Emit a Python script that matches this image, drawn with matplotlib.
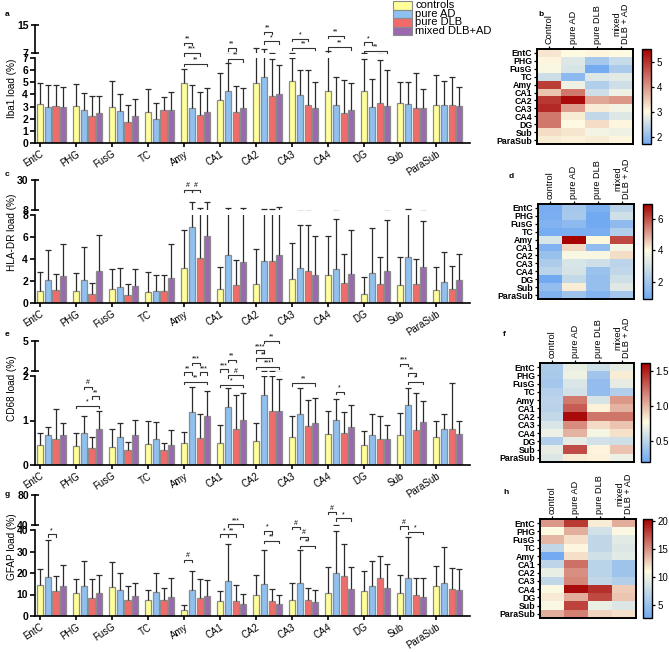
import numpy as np
import matplotlib
matplotlib.use('Agg')
import matplotlib.pyplot as plt
from matplotlib.colors import LinearSegmentedColormap, Normalize

plt.rcParams['font.family'] = ['Liberation Sans', 'DejaVu Sans']

# ---------------- data ----------------
regions = ['EntC', 'PHG', 'FusG', 'TC', 'Amy', 'CA1', 'CA2', 'CA3', 'CA4', 'DG', 'Sub', 'ParaSub']
groups = ['controls', 'pure AD', 'pure DLB', 'mixed DLB+AD']

iba1_mean = {
    'controls':     [3.20, 3.05, 2.95, 2.55, 4.90, 3.55, 4.95, 5.10, 4.30, 4.30, 3.30, 3.15],
    'pure AD':      [3.00, 2.70, 2.65, 1.95, 2.85, 4.30, 5.40, 3.95, 3.15, 3.00, 3.20, 3.10],
    'pure DLB':     [3.05, 2.20, 1.75, 2.70, 2.30, 2.55, 3.85, 3.15, 2.45, 3.30, 2.90, 3.15],
    'mixed DLB+AD': [3.00, 2.50, 2.25, 2.75, 2.55, 2.85, 4.00, 2.90, 2.70, 3.05, 2.85, 3.05],
}
iba1_top = {
    'controls':     [4.93, 4.85, 5.10, 4.45, 6.10, 5.75, 8.40, 7.00, 7.60, 6.90, 5.00, 5.60],
    'pure AD':      [4.80, 4.10, 4.05, 3.30, 4.80, 6.60, 8.10, 6.05, 5.40, 5.25, 5.00, 5.10],
    'pure DLB':     [4.80, 3.90, 3.15, 3.80, 4.20, 4.70, 6.90, 6.05, 5.20, 6.85, 5.80, 5.40],
    'mixed DLB+AD': [4.60, 3.90, 3.60, 4.20, 4.55, 4.55, 6.40, 5.05, 4.90, 6.00, 4.45, 4.65],
}
hla_mean = {
    'controls':     [1.05, 1.10, 1.25, 1.00, 3.15, 1.25, 1.75, 2.20, 2.55, 0.80, 1.65, 1.20],
    'pure AD':      [2.05, 2.10, 1.50, 1.10, 6.95, 4.40, 3.85, 3.15, 3.10, 2.70, 4.15, 1.90],
    'pure DLB':     [1.15, 0.80, 0.75, 1.10, 4.05, 1.65, 3.85, 2.95, 1.80, 1.70, 1.70, 1.30],
    'mixed DLB+AD': [2.50, 2.95, 1.55, 2.30, 6.10, 3.70, 4.35, 2.55, 2.65, 2.95, 3.30, 2.05],
}
hla_top = {
    'controls':     [2.80, 2.70, 3.10, 2.85, 6.60, 3.30, 4.90, 5.45, 6.10, 2.35, 4.15, 3.25],
    'pure AD':      [4.80, 5.10, 3.20, 2.55, 14.0, 9.50, 8.50, 7.05, 7.60, 6.85, 8.50, 4.60],
    'pure DLB':     [2.60, 1.80, 1.75, 2.55, 9.50, 3.90, 8.50, 7.05, 4.45, 4.20, 4.00, 3.40],
    'mixed DLB+AD': [5.40, 6.15, 3.10, 5.35, 14.0, 9.50, 10.0, 6.10, 6.60, 7.55, 7.45, 4.45],
}
cd68_mean = {
    'controls':     [0.44, 0.43, 0.41, 0.47, 0.50, 0.49, 0.53, 0.62, 0.70, 0.46, 0.67, 0.63],
    'pure AD':      [0.68, 0.71, 0.62, 0.59, 1.20, 1.30, 1.57, 1.14, 1.01, 0.67, 1.35, 0.82],
    'pure DLB':     [0.58, 0.39, 0.34, 0.34, 0.61, 0.80, 1.21, 0.88, 0.73, 0.59, 0.79, 0.80],
    'mixed DLB+AD': [0.67, 0.82, 0.67, 0.46, 1.10, 1.01, 1.21, 0.95, 0.86, 0.58, 0.96, 0.70],
}
cd68_top = {
    'controls':     [0.71, 0.71, 0.80, 0.99, 0.74, 0.89, 0.95, 1.11, 1.22, 0.76, 1.16, 0.99],
    'pure AD':      [0.86, 1.09, 0.94, 0.96, 1.76, 1.74, 1.99, 1.72, 1.48, 1.14, 1.74, 1.14],
    'pure DLB':     [1.25, 0.62, 0.51, 0.49, 1.15, 1.57, 1.99, 1.46, 1.19, 1.09, 1.61, 1.84],
    'mixed DLB+AD': [0.94, 1.21, 1.01, 0.79, 1.66, 1.61, 1.93, 1.50, 1.34, 0.91, 1.44, 0.99],
}
gfap_mean = {
    'controls':     [14.6, 10.9, 13.5, 7.4, 2.8, 7.2, 9.7, 7.4, 10.8, 11.6, 10.7, 13.9],
    'pure AD':      [18.1, 13.8, 12.0, 11.2, 12.0, 16.1, 15.0, 15.3, 19.8, 13.9, 17.8, 15.5],
    'pure DLB':     [11.5, 8.4, 7.4, 7.4, 8.3, 6.9, 6.9, 7.5, 18.5, 17.6, 9.8, 12.4],
    'mixed DLB+AD': [13.9, 10.7, 9.3, 9.0, 9.3, 5.4, 5.4, 6.6, 12.7, 13.0, 9.0, 12.0],
}
gfap_top = {
    'controls':     [21.9, 17.3, 25.3, 12.3, 4.9, 11.8, 19.2, 15.3, 22.9, 21.1, 18.9, 23.1],
    'pure AD':      [35.2, 25.6, 20.2, 19.9, 20.8, 33.4, 30.7, 30.7, 39.6, 25.4, 36.9, 32.2],
    'pure DLB':     [18.5, 17.0, 13.9, 13.0, 17.3, 14.3, 12.7, 13.2, 33.7, 27.7, 17.8, 22.2],
    'mixed DLB+AD': [23.8, 19.3, 15.5, 17.9, 16.9, 10.1, 10.0, 12.3, 22.7, 24.2, 17.8, 21.9],
}

# significance brackets: (region index, group a, group b, height, label)
iba1_sig = [(4, 0, 1, 8.26, '**'), (4, 0, 2, 7.41, '***'), (4, 0, 3, 6.53, '**'),
            (5, 1, 2, 7.82, '**'), (5, 1, 3, 6.91, '**'),
            (6, 1, 2, 9.15, '**'), (6, 1, 3, 8.37, '*'),
            (7, 0, 2, 8.60, '*'), (7, 0, 3, 7.85, '**'),
            (8, 0, 2, 8.84, '**'), (8, 0, 3, 7.90, '**'),
            (9, 0, 1, 8.30, '*'), (9, 0, 3, 7.60, '**')]
hla_sig = [(4, 0, 1, 10.3, '#'), (4, 1, 2, 10.3, '#')]
cd68_sig = [(1, 1, 2, 1.76, '#'), (1, 2, 3, 1.54, '**'), (1, 0, 3, 1.33, '*'),
            (4, 1, 2, 2.30, '***'), (4, 0, 1, 2.08, '**'), (4, 2, 3, 2.08, '***'), (4, 0, 3, 1.87, '**'),
            (5, 1, 2, 2.37, '**'), (5, 0, 1, 2.15, '***'), (5, 1, 3, 2.02, '#'), (5, 0, 3, 1.80, '*'),
            (6, 1, 3, 2.79, '**'), (6, 0, 1, 2.58, '****'), (6, 0, 2, 2.40, '**'), (6, 0, 3, 2.21, '***'),
            (7, 0, 3, 1.84, '**'), (8, 1, 2, 1.65, '*'),
            (10, 0, 1, 2.27, '***'), (10, 1, 2, 2.06, '**'), (10, 1, 3, 1.87, '*')]
gfap_sig = [(0, 1, 2, 38.0, '*'), (4, 0, 1, 26.2, '#'),
            (5, 1, 3, 42.6, '***'), (5, 0, 1, 38.0, '*'), (5, 1, 2, 38.0, '**'),
            (6, 1, 2, 39.5, '*'), (6, 1, 3, 34.9, '**'),
            (7, 0, 1, 41.4, '#'), (7, 1, 2, 36.9, '#'), (7, 1, 3, 32.6, '**'),
            (8, 0, 1, 48.4, '#'), (8, 1, 3, 45.4, '*'),
            (10, 0, 1, 41.8, '#'), (10, 1, 3, 39.1, '*')]

# ---------------- style ----------------
W, H = 669, 652
bar_colors = ['#FFFF99', '#8EC0F0', '#F26B6B', '#9B69AF']
bar_edge = '#8c8c8c'
step = 0.215
bw = 0.17

fig = plt.figure(figsize=(W / 100, H / 100), dpi=100)


def fax(l, t, r, b):
    return fig.add_axes([l / W, 1 - b / H, (r - l) / W, (b - t) / H])


def bar_panel(means, tops, lo, up, brk, ymax, lticks, uticks, ylabel, ylab_y, sig, letter, letter_y):
    axl = fax(35, lo[0], 470, lo[1])
    axu = fax(35, up[0], 470, up[1])
    xb = np.arange(len(regions))
    for ax in (axl, axu):
        ax.patch.set_visible(False)
        for j, g in enumerate(groups):
            x = xb + j * step
            m = np.array(means[g])
            t = np.array(tops[g])
            ax.bar(x, m, width=bw, color=bar_colors[j], edgecolor=bar_edge, linewidth=0.9, zorder=2)
            eb = ax.errorbar(x, m, yerr=[np.zeros_like(m), t - m], fmt='none', ecolor='#2b2b2b',
                             elinewidth=0.9, capsize=2.0, capthick=0.9, zorder=3)
            eb[1][0].set_visible(False)
        ax.set_xlim(-0.14, 11.94)
        for s in ('top', 'right'):
            ax.spines[s].set_visible(False)
        ax.spines['left'].set_linewidth(1.2)
        ax.tick_params(axis='y', length=3.5, width=1.2, labelsize=7.5, pad=1.5)
    axl.set_ylim(0, brk)
    axu.set_ylim(brk, ymax)
    axl.set_yticks(lticks)
    axu.set_yticks(uticks)
    for ax in (axl, axu):
        for lab in ax.get_yticklabels():
            lab.set_fontweight('bold')
    axu.spines['bottom'].set_visible(False)
    axu.set_xticks([])
    axu.tick_params(axis='y', direction='inout', length=6)
    axl.spines['bottom'].set_linewidth(1.2)
    axl.set_xticks(xb)
    axl.set_xticklabels(regions, rotation=33, ha='right', va='top', rotation_mode='anchor', fontsize=6.9)
    axl.tick_params(axis='x', length=3, width=1.2, pad=1.2)
    # brackets
    hpx = lo[1] - lo[0]
    th = 2.5 * brk / hpx
    for (i, a, b, y, lab) in sig:
        x1, x2 = i + a * step, i + b * step
        axl.plot([x1, x1, x2, x2], [y - th, y, y, y - th], color='#333333', lw=0.8, clip_on=False, zorder=4)
        axl.text((x1 + x2) / 2, y + th * 0.1, lab, ha='center', va='bottom', fontsize=5, clip_on=False, zorder=4)
    fig.text(12 / W, 1 - ylab_y / H, ylabel, rotation=90, ha='center', va='center', fontsize=7.2)
    fig.text(5 / W, 1 - letter_y / H, letter, fontsize=6, fontweight='bold', ha='left', va='center')
    return axl, axu


def heat_panel(means, box, cbox, vmin, vcenter, vmax, cticks, cfmt, col0, letter, lxy):
    f = (vcenter - vmin) / (vmax - vmin)
    cmap = LinearSegmentedColormap.from_list('hm', [(0.0, '#72AAF2'), (f, '#FFFBE2'), (1.0, '#A50000')])
    M = np.array([means[g] for g in groups]).T
    ax = fax(*box)
    im = ax.imshow(M, aspect='auto', cmap=cmap, norm=Normalize(vmin, vmax), interpolation='nearest')
    ax.xaxis.tick_top()
    ax.set_xticks(range(len(groups)))
    ax.set_xticklabels([col0, 'pure AD', 'pure DLB', 'mixed\nDLB + AD'], rotation=90,
                       ha='center', va='bottom', fontsize=6.6, linespacing=1.0)
    ax.set_yticks(range(len(regions)))
    ax.set_yticklabels(regions, fontsize=6.3, fontweight='bold')
    ax.tick_params(axis='both', length=2.5, width=0.9, pad=1)
    for s in ax.spines.values():
        s.set_linewidth(1.4)
    cax = fax(*cbox)
    cb = fig.colorbar(im, cax=cax, ticks=cticks)
    cb.ax.set_yticklabels([cfmt.format(t) for t in cticks])
    cb.ax.tick_params(labelsize=7, length=2.5, width=0.9, pad=1.5)
    cb.outline.set_linewidth(1.0)
    fig.text(lxy[0] / W, 1 - lxy[1] / H, letter, fontsize=6, fontweight='bold', ha='left', va='center')


# bar panels
bar_panel(iba1_mean, iba1_top, (58, 143), (25, 53), 7, 15, range(0, 8), [7, 15],
          'Iba1 load (%)', 88, iba1_sig, 'a', 14)
bar_panel(hla_mean, hla_top, (215, 303), (180, 210), 8, 30, [0, 2, 4, 6, 8], [8, 30],
          'HLA-DR load (%)', 232, hla_sig, 'c', 174)
bar_panel(cd68_mean, cd68_top, (376, 465), (341, 371), 2, 5, [0, 1, 2], [2, 5],
          'CD68 load (%)', 388, cd68_sig, 'e', 335)
bar_panel(gfap_mean, gfap_top, (530, 616), (495, 525), 40, 80, [0, 10, 20, 30, 40], [40, 80],
          'GFAP load (%)', 547, gfap_sig, 'g', 494)

# heatmaps
heat_panel(iba1_mean, (537, 49, 633, 144), (642, 49, 651, 144), 1.71, 3.0, 5.52, [2, 3, 4, 5], '{:g}', 'Control', 'b', (538, 14))
heat_panel(hla_mean, (538, 204, 634, 299), (643, 204, 652, 299), 0.89, 4.0, 6.98, [2, 4, 6], '{:g}', 'control', 'd', (509, 177))
heat_panel(cd68_mean, (540, 363, 634, 462), (641, 363, 650, 462), 0.20, 0.77, 1.61, [0.5, 1.0, 1.5], '{:.1f}', 'control', 'f', (503, 335))
heat_panel(gfap_mean, (540, 519, 636, 618), (643, 519, 652, 618), 2.7, 11.0, 20.3, [5, 10, 15, 20], '{:g}', 'control', 'h', (503, 493))

# legend (drawn in figure pixels)
row_h = 8.5
for j, g in enumerate(groups):
    top = 1 + j * row_h
    fig.patches.append(plt.Rectangle((393 / W, 1 - (top + row_h) / H), 19 / W, row_h / H,
                                     transform=fig.transFigure, facecolor=bar_colors[j],
                                     edgecolor=bar_edge, linewidth=0.8))
    fig.text(415 / W, 1 - (top + row_h / 2) / H, g, fontsize=8, ha='left', va='center')

fig.savefig('out.png', dpi=100)
